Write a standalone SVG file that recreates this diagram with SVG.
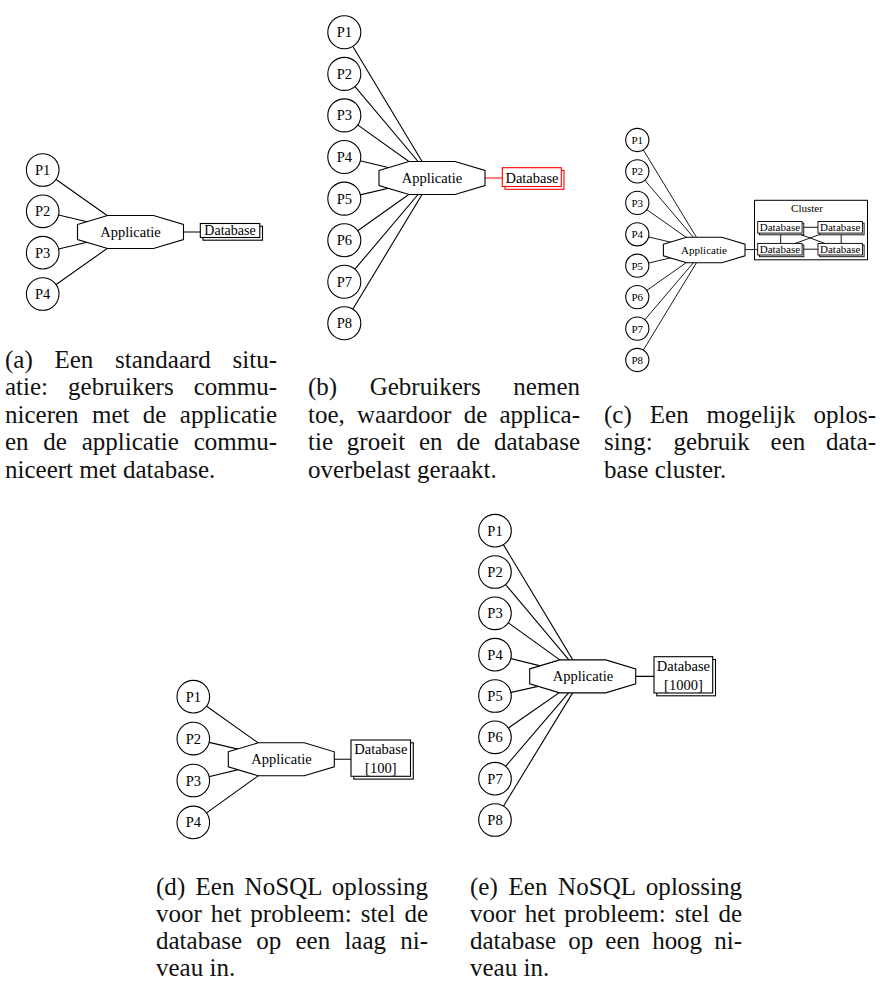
<svg xmlns="http://www.w3.org/2000/svg" xmlns:xlink="http://www.w3.org/1999/xlink" width="885" height="982" viewBox="0 0 885 982">
  <style>
    .lbl { font-family: "Liberation Serif", "Times New Roman", serif; font-size: 14.5px; fill: #000; text-anchor: middle; }
    .lbl-s { font-family: "Liberation Serif", "Times New Roman", serif; font-size: 11px; fill: #000; text-anchor: middle; }
    .cap { font-family: "Liberation Serif", "Times New Roman", serif; font-size: 25px; fill: #111; }
    .user { fill: #fff; stroke: #000; stroke-width: 1.1; }
    .app { fill: #fff; stroke: #000; stroke-width: 1.1; }
    .db-front { fill: #fff; stroke: #000; stroke-width: 1.1; }
    .db-back { fill: #fff; stroke: #000; stroke-width: 1.1; }
    .hot .db-front, .hot .db-back { stroke: #f00; }
    .cluster { fill: #fff; stroke: #000; stroke-width: 1; }
    .edges line { stroke: #000; stroke-width: 1.1; fill: none; }
    .edges line.hot { stroke: #f00; }
    .edges line.thin { stroke-width: 0.9; }
  </style>
  <defs>
    <!-- octagon used for the application node -->
    <polygon id="oct" points="-53,-7.5 -23,-16.5 23,-16.5 53,-7.5 53,7.5 23,16.5 -23,16.5 -53,7.5"/>
  </defs>

  <rect x="0" y="0" width="885" height="982" fill="#fff"/>

  <!-- connectors: drawn center to center, nodes cover the inner parts -->
  <g id="connectors" class="edges">
    <!-- (a) -->
    <line x1="42.7" y1="170" x2="130.5" y2="232"/>
    <line x1="42.7" y1="211.3" x2="130.5" y2="232"/>
    <line x1="42.7" y1="252.7" x2="130.5" y2="232"/>
    <line x1="42.7" y1="294" x2="130.5" y2="232"/>
    <line x1="130.5" y1="232" x2="230" y2="232"/>
    <!-- (b) -->
    <line x1="344.3" y1="32.3" x2="432" y2="178"/>
    <line x1="344.3" y1="73.9" x2="432" y2="178"/>
    <line x1="344.3" y1="115.4" x2="432" y2="178"/>
    <line x1="344.3" y1="157" x2="432" y2="178"/>
    <line x1="344.3" y1="198.6" x2="432" y2="178"/>
    <line x1="344.3" y1="240.2" x2="432" y2="178"/>
    <line x1="344.3" y1="281.7" x2="432" y2="178"/>
    <line x1="344.3" y1="323.3" x2="432" y2="178"/>
    <line class="hot" x1="432" y1="178" x2="530" y2="178"/>
    <!-- (c) -->
    <line class="thin" x1="637.3" y1="140" x2="704.2" y2="250"/>
    <line class="thin" x1="637.3" y1="171.4" x2="704.2" y2="250"/>
    <line class="thin" x1="637.3" y1="202.9" x2="704.2" y2="250"/>
    <line class="thin" x1="637.3" y1="234.3" x2="704.2" y2="250"/>
    <line class="thin" x1="637.3" y1="265.7" x2="704.2" y2="250"/>
    <line class="thin" x1="637.3" y1="297.1" x2="704.2" y2="250"/>
    <line class="thin" x1="637.3" y1="328.6" x2="704.2" y2="250"/>
    <line class="thin" x1="637.3" y1="360" x2="704.2" y2="250"/>
    <line class="thin" x1="704.2" y1="249.6" x2="760" y2="249.6"/>
    <!-- (d) -->
    <line x1="193.3" y1="696.7" x2="281.3" y2="759.3"/>
    <line x1="193.3" y1="738.6" x2="281.3" y2="759.3"/>
    <line x1="193.3" y1="780.5" x2="281.3" y2="759.3"/>
    <line x1="193.3" y1="822.4" x2="281.3" y2="759.3"/>
    <line x1="281.3" y1="759.3" x2="380" y2="759.3"/>
    <!-- (e) -->
    <line x1="495" y1="530.7" x2="582.7" y2="676.4"/>
    <line x1="495" y1="572" x2="582.7" y2="676.4"/>
    <line x1="495" y1="613.3" x2="582.7" y2="676.4"/>
    <line x1="495" y1="654.7" x2="582.7" y2="676.4"/>
    <line x1="495" y1="696" x2="582.7" y2="676.4"/>
    <line x1="495" y1="737.3" x2="582.7" y2="676.4"/>
    <line x1="495" y1="778.7" x2="582.7" y2="676.4"/>
    <line x1="495" y1="820" x2="582.7" y2="676.4"/>
    <line x1="582.7" y1="676.4" x2="683" y2="676.4"/>
  </g>

  <!-- ===== (a) standard situation ===== -->
  <g id="a-p1"><circle class="user" cx="42.7" cy="170" r="16.3"/><text class="lbl" x="42.7" y="175">P1</text></g>
  <g id="a-p2"><circle class="user" cx="42.7" cy="211.3" r="16.3"/><text class="lbl" x="42.7" y="216.3">P2</text></g>
  <g id="a-p3"><circle class="user" cx="42.7" cy="252.7" r="16.3"/><text class="lbl" x="42.7" y="257.7">P3</text></g>
  <g id="a-p4"><circle class="user" cx="42.7" cy="294" r="16.3"/><text class="lbl" x="42.7" y="299">P4</text></g>
  <g id="a-app"><use xlink:href="#oct" class="app" transform="translate(130.5,232)"/><text class="lbl" x="130.5" y="237">Applicatie</text></g>
  <g id="a-db">
    <rect class="db-back" x="203" y="226.2" width="59.5" height="14"/>
    <rect class="db-front" x="200.3" y="223.5" width="59.5" height="14"/>
    <text class="lbl" x="230" y="235.2" style="font-size:14px">Database</text>
  </g>

  <!-- ===== (b) more users, overloaded database ===== -->
  <g id="b-p1"><circle class="user" cx="344.3" cy="32.3" r="16.5"/><text class="lbl" x="344.3" y="37.3">P1</text></g>
  <g id="b-p2"><circle class="user" cx="344.3" cy="73.9" r="16.5"/><text class="lbl" x="344.3" y="78.9">P2</text></g>
  <g id="b-p3"><circle class="user" cx="344.3" cy="115.4" r="16.5"/><text class="lbl" x="344.3" y="120.4">P3</text></g>
  <g id="b-p4"><circle class="user" cx="344.3" cy="157" r="16.5"/><text class="lbl" x="344.3" y="162">P4</text></g>
  <g id="b-p5"><circle class="user" cx="344.3" cy="198.6" r="16.5"/><text class="lbl" x="344.3" y="203.6">P5</text></g>
  <g id="b-p6"><circle class="user" cx="344.3" cy="240.2" r="16.5"/><text class="lbl" x="344.3" y="245.2">P6</text></g>
  <g id="b-p7"><circle class="user" cx="344.3" cy="281.7" r="16.5"/><text class="lbl" x="344.3" y="286.7">P7</text></g>
  <g id="b-p8"><circle class="user" cx="344.3" cy="323.3" r="16.5"/><text class="lbl" x="344.3" y="328.3">P8</text></g>
  <g id="b-app"><use xlink:href="#oct" class="app" transform="translate(432,178)"/><text class="lbl" x="432" y="183">Applicatie</text></g>
  <g id="b-db" class="hot">
    <rect class="db-back" x="505" y="170.5" width="59" height="18.8"/>
    <rect class="db-front" x="502.3" y="167.7" width="59" height="18.8"/>
    <text class="lbl" x="532" y="182.6">Database</text>
  </g>

  <!-- ===== (c) database cluster ===== -->
  <g id="c-p1"><circle class="user" cx="637.3" cy="140" r="11.6"/><text class="lbl-s" x="637.3" y="143.9">P1</text></g>
  <g id="c-p2"><circle class="user" cx="637.3" cy="171.4" r="11.6"/><text class="lbl-s" x="637.3" y="175.3">P2</text></g>
  <g id="c-p3"><circle class="user" cx="637.3" cy="202.9" r="11.6"/><text class="lbl-s" x="637.3" y="206.8">P3</text></g>
  <g id="c-p4"><circle class="user" cx="637.3" cy="234.3" r="11.6"/><text class="lbl-s" x="637.3" y="238.2">P4</text></g>
  <g id="c-p5"><circle class="user" cx="637.3" cy="265.7" r="11.6"/><text class="lbl-s" x="637.3" y="269.6">P5</text></g>
  <g id="c-p6"><circle class="user" cx="637.3" cy="297.1" r="11.6"/><text class="lbl-s" x="637.3" y="301">P6</text></g>
  <g id="c-p7"><circle class="user" cx="637.3" cy="328.6" r="11.6"/><text class="lbl-s" x="637.3" y="332.5">P7</text></g>
  <g id="c-p8"><circle class="user" cx="637.3" cy="360" r="11.6"/><text class="lbl-s" x="637.3" y="363.9">P8</text></g>
  <g id="c-app"><use xlink:href="#oct" class="app" vector-effect="non-scaling-stroke" style="stroke-width:1.4" transform="translate(704.2,250) scale(0.77)"/><text class="lbl-s" x="704" y="253.8">Applicatie</text></g>
  <g id="c-cluster">
    <rect class="cluster" x="754.5" y="200.3" width="113" height="59.5"/>
    <text class="lbl-s" x="807" y="212.2">Cluster</text>
  </g>
  <!-- links between the cluster members, drawn above the cluster background -->
  <g id="c-cluster-links" class="edges">
    <line class="thin" x1="780" y1="227.3" x2="840.2" y2="227.3"/>
    <line class="thin" x1="780" y1="249.2" x2="840.2" y2="249.2"/>
    <line class="thin" x1="780.7" y1="227" x2="780.7" y2="249"/>
    <line class="thin" x1="841.2" y1="227" x2="841.2" y2="249"/>
    <line class="thin" x1="780" y1="227" x2="840.2" y2="249"/>
    <line class="thin" x1="840.2" y1="227" x2="780" y2="249"/>
    <line class="thin" x1="754.5" y1="249.6" x2="780" y2="249.6"/>
  </g>
  <g id="c-db1">
    <rect class="db-back" x="759.4" y="223.2" width="44.4" height="11.6" style="stroke-width:0.9"/>
    <rect class="db-front" x="757.7" y="221.5" width="44.4" height="11.6" style="stroke-width:0.9"/>
    <text class="lbl-s" x="779.9" y="230.8">Database</text>
  </g>
  <g id="c-db2">
    <rect class="db-back" x="819.7" y="223.2" width="44.4" height="11.6" style="stroke-width:0.9"/>
    <rect class="db-front" x="818" y="221.5" width="44.4" height="11.6" style="stroke-width:0.9"/>
    <text class="lbl-s" x="840.2" y="230.8">Database</text>
  </g>
  <g id="c-db3">
    <rect class="db-back" x="759.4" y="245.1" width="44.4" height="11.6" style="stroke-width:0.9"/>
    <rect class="db-front" x="757.7" y="243.4" width="44.4" height="11.6" style="stroke-width:0.9"/>
    <text class="lbl-s" x="779.9" y="252.7">Database</text>
  </g>
  <g id="c-db4">
    <rect class="db-back" x="819.7" y="245.1" width="44.4" height="11.6" style="stroke-width:0.9"/>
    <rect class="db-front" x="818" y="243.4" width="44.4" height="11.6" style="stroke-width:0.9"/>
    <text class="lbl-s" x="840.2" y="252.7">Database</text>
  </g>

  <!-- ===== (d) NoSQL, low level ===== -->
  <g id="d-p1"><circle class="user" cx="193.3" cy="696.7" r="16.3"/><text class="lbl" x="193.3" y="701.7">P1</text></g>
  <g id="d-p2"><circle class="user" cx="193.3" cy="738.6" r="16.3"/><text class="lbl" x="193.3" y="743.6">P2</text></g>
  <g id="d-p3"><circle class="user" cx="193.3" cy="780.5" r="16.3"/><text class="lbl" x="193.3" y="785.5">P3</text></g>
  <g id="d-p4"><circle class="user" cx="193.3" cy="822.4" r="16.3"/><text class="lbl" x="193.3" y="827.4">P4</text></g>
  <g id="d-app"><use xlink:href="#oct" class="app" transform="translate(281.3,759.3)"/><text class="lbl" x="281.5" y="764.3">Applicatie</text></g>
  <g id="d-db">
    <rect class="db-back" x="353.8" y="742.8" width="59.5" height="36.3"/>
    <rect class="db-front" x="351" y="740" width="59.5" height="36.3"/>
    <text class="lbl" x="380.8" y="754.2">Database</text>
    <text class="lbl" x="380.8" y="772.8">[100]</text>
  </g>

  <!-- ===== (e) NoSQL, high level ===== -->
  <g id="e-p1"><circle class="user" cx="495" cy="530.7" r="16.3"/><text class="lbl" x="495" y="535.7">P1</text></g>
  <g id="e-p2"><circle class="user" cx="495" cy="572" r="16.3"/><text class="lbl" x="495" y="577">P2</text></g>
  <g id="e-p3"><circle class="user" cx="495" cy="613.3" r="16.3"/><text class="lbl" x="495" y="618.3">P3</text></g>
  <g id="e-p4"><circle class="user" cx="495" cy="654.7" r="16.3"/><text class="lbl" x="495" y="659.7">P4</text></g>
  <g id="e-p5"><circle class="user" cx="495" cy="696" r="16.3"/><text class="lbl" x="495" y="701">P5</text></g>
  <g id="e-p6"><circle class="user" cx="495" cy="737.3" r="16.3"/><text class="lbl" x="495" y="742.3">P6</text></g>
  <g id="e-p7"><circle class="user" cx="495" cy="778.7" r="16.3"/><text class="lbl" x="495" y="783.7">P7</text></g>
  <g id="e-p8"><circle class="user" cx="495" cy="820" r="16.3"/><text class="lbl" x="495" y="825">P8</text></g>
  <g id="e-app"><use xlink:href="#oct" class="app" transform="translate(582.7,676.4)"/><text class="lbl" x="583" y="681.2">Applicatie</text></g>
  <g id="e-db">
    <rect class="db-back" x="656.8" y="659.5" width="58.7" height="36.3"/>
    <rect class="db-front" x="654" y="656.7" width="58.7" height="36.3"/>
    <text class="lbl" x="683.4" y="671">Database</text>
    <text class="lbl" x="683.4" y="689.8">[1000]</text>
  </g>

  <!-- ===== sub-captions ===== -->
  <g id="caption-a" class="cap">
    <text x="5" y="367.5" style="word-spacing:15.4px" textLength="272" lengthAdjust="spacing">(a) Een standaard situ-</text>
    <text x="5" y="395" style="word-spacing:13.8px" textLength="272" lengthAdjust="spacing">atie: gebruikers commu-</text>
    <text x="5" y="422.5" style="word-spacing:7.1px" textLength="272" lengthAdjust="spacing">niceren met de applicatie</text>
    <text x="5" y="450" style="word-spacing:8.5px" textLength="272" lengthAdjust="spacing">en de applicatie commu-</text>
    <text x="5" y="477.5">niceert met database.</text>
  </g>
  <g id="caption-b" class="cap">
    <text x="308" y="395" style="word-spacing:26.3px" textLength="272" lengthAdjust="spacing">(b) Gebruikers nemen</text>
    <text x="308" y="422.5" style="word-spacing:6px" textLength="272" lengthAdjust="spacing">toe, waardoor de applica-</text>
    <text x="308" y="450" style="word-spacing:7.6px" textLength="272" lengthAdjust="spacing">tie groeit en de database</text>
    <text x="308" y="477.5">overbelast geraakt.</text>
  </g>
  <g id="caption-c" class="cap">
    <text x="604" y="422.5" style="word-spacing:11.75px" textLength="272" lengthAdjust="spacing">(c) Een mogelijk oplos-</text>
    <text x="604" y="450" style="word-spacing:14.5px" textLength="272" lengthAdjust="spacing">sing: gebruik een data-</text>
    <text x="604" y="477.5">base cluster.</text>
  </g>
  <g id="caption-d" class="cap">
    <text x="156" y="895" style="word-spacing:3.85px" textLength="272" lengthAdjust="spacing">(d) Een NoSQL oplossing</text>
    <text x="156" y="922" style="word-spacing:2.7px" textLength="272" lengthAdjust="spacing">voor het probleem: stel de</text>
    <text x="156" y="949" style="word-spacing:7.95px" textLength="272" lengthAdjust="spacing">database op een laag ni-</text>
    <text x="156" y="976">veau in.</text>
  </g>
  <g id="caption-e" class="cap">
    <text x="470" y="895" style="word-spacing:4.3px" textLength="272" lengthAdjust="spacing">(e) Een NoSQL oplossing</text>
    <text x="470" y="922" style="word-spacing:2.7px" textLength="272" lengthAdjust="spacing">voor het probleem: stel de</text>
    <text x="470" y="949" style="word-spacing:5.86px" textLength="272" lengthAdjust="spacing">database op een hoog ni-</text>
    <text x="470" y="976">veau in.</text>
  </g>
</svg>
